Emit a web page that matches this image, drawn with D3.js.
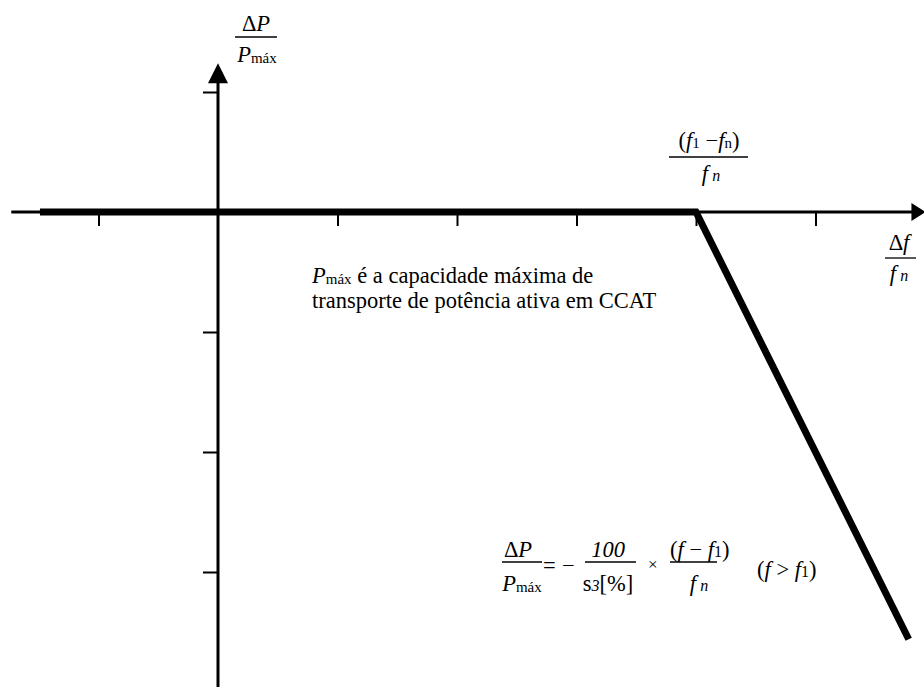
<!DOCTYPE html>
<html lang="pt">
<head>
<meta charset="utf-8">
<title>Controle de frequência CCAT</title>
<script src="https://cdn.jsdelivr.net/npm/d3@7"></script>
<style>
  body { margin: 0; background: #fff; }
</style>
</head>
<body>
<script>
// data (units of one tick spacing)
var xTicks = [-1, 1, 2, 3, 4, 5];
var yTicks = [1, -1, -2, -3];
var curveX = [-1.49, 4, 5.78];
var curveY = [0, 0, -3.56];
var xAxisExtent = [-1.73, 5.92];
var yAxisExtent = [1.24, -3.99];

var w = 924, h = 687;

var xScale = d3.scaleLinear().domain([-1, 5]).range([98.5, 815.5]);
var yScale = d3.scaleLinear().domain([-3, 1]).range([572, 92]);

var svg = d3.select("body").append("svg")
  .attr("width", w)
  .attr("height", h);

// axes lines
var x0 = xScale(0), y0 = yScale(0);
svg.append("line")
  .attr("x1", xScale(xAxisExtent[0])).attr("x2", xScale(xAxisExtent[1]) - 8)
  .attr("y1", y0).attr("y2", y0)
  .attr("stroke", "#000").attr("stroke-width", 3);
svg.append("line")
  .attr("x1", x0).attr("x2", x0)
  .attr("y1", yScale(yAxisExtent[0]) + 10).attr("y2", yScale(yAxisExtent[1]))
  .attr("stroke", "#000").attr("stroke-width", 3);

// arrow heads
var ax = xScale(xAxisExtent[1]);
svg.append("path")
  .attr("d", "M" + ax + "," + y0 + "L" + (ax - 14) + "," + (y0 - 9) + "L" + (ax - 14) + "," + (y0 + 9) + "Z")
  .attr("fill", "#000");
var ay = yScale(yAxisExtent[0]);
svg.append("path")
  .attr("d", "M" + x0 + "," + ay + "L" + (x0 - 10) + "," + (ay + 20) + "L" + (x0 + 10) + "," + (ay + 20) + "Z")
  .attr("fill", "#000");

// ticks
var xAxis = d3.axisBottom(xScale).tickValues(xTicks).tickSize(14).tickFormat("");
var yAxis = d3.axisLeft(yScale).tickValues(yTicks).tickSize(15).tickFormat("");

var gx = svg.append("g")
  .attr("transform", "translate(0," + y0 + ")")
  .call(xAxis);
var gy = svg.append("g")
  .attr("transform", "translate(" + x0 + ",0)")
  .call(yAxis);
gx.select(".domain").remove();
gy.select(".domain").remove();
svg.selectAll(".tick line").attr("stroke", "#000").attr("stroke-width", 2);

// the characteristic
var pts = curveX.map(function(d, i) { return [d, curveY[i]]; });
var line = d3.line()
  .x(function(d) { return xScale(d[0]); })
  .y(function(d) { return yScale(d[1]); });
svg.append("path")
  .datum(pts)
  .attr("d", line)
  .attr("fill", "none")
  .attr("stroke", "#000")
  .attr("stroke-width", 7)
  .attr("stroke-linejoin", "miter");

// text helpers
var fs = 22.5;
function addText(x, y, parts, anchor) {
  var t = svg.append("text")
    .attr("x", x).attr("y", y)
    .attr("font-family", "Liberation Serif")
    .attr("font-size", fs)
    .attr("fill", "#000")
    .attr("text-anchor", anchor || "start");
  parts.forEach(function(p) {
    var s = t.append("tspan").text(p.t);
    if (p.i) s.attr("font-style", "italic");
    if (p.s) s.attr("font-size", p.s);
    if (p.dy) s.attr("dy", p.dy);
    if (p.dx) s.attr("dx", p.dx);
  });
  return t;
}
function bar(x1, x2, y) {
  svg.append("line")
    .attr("x1", x1).attr("x2", x2).attr("y1", y).attr("y2", y)
    .attr("stroke", "#000").attr("stroke-width", 1.3);
}
var pmax = [{t: "P", i: true}, {t: "máx", s: 15, dy: 1}];

// y label
addText(256, 31, [{t: "Δ"}, {t: "P", i: true}], "middle");
bar(235, 277, 37);
addText(257, 62, pmax, "middle");

// (f1 - fn)/fn
addText(709, 148, [{t: "("}, {t: "f", i: true}, {t: "1", s: 15}, {t: " −"}, {t: "f", i: true}, {t: "n", s: 15}, {t: ")"}], "middle");
bar(669, 748, 157);
addText(711, 181, [{t: "f", i: true}, {t: " n", i: true, s: 16}], "middle");

// Δf/fn
addText(899, 250, [{t: "Δ"}, {t: "f", i: true}], "middle");
bar(885, 916, 258);
addText(899, 281, [{t: "f", i: true}, {t: " n", i: true, s: 16}], "middle");

// description
addText(312, 283, pmax.concat([{t: " é a capacidade máxima de", s: fs, dy: -1}]));
addText(312, 308, [{t: "transporte de potência ativa em CCAT"}]);

// formula
addText(518, 557, [{t: "Δ"}, {t: "P", i: true}], "middle");
bar(502, 542, 562);
addText(522, 591, pmax, "middle");
addText(543, 573, [{t: "="}]);
addText(562, 573, [{t: "−"}]);
addText(608, 557, [{t: "100", i: true}], "middle");
bar(585, 636, 562);
addText(608, 591, [{t: "s"}, {t: "3", i: true, s: 16}, {t: "[%]"}], "middle");
addText(648, 570, [{t: "×", s: 17}]);
addText(670, 557, [{t: "("}, {t: "f", i: true}, {t: " − "}, {t: "f", i: true}, {t: "1", s: 16}, {t: ")"}]);
bar(670, 717, 562);
addText(699, 591, [{t: "f", i: true}, {t: " n", i: true, s: 16}], "middle");
addText(757, 577, [{t: "("}, {t: "f", i: true}, {t: " > "}, {t: "f", i: true}, {t: "1", s: 16}, {t: ")"}]);
</script>
</body>
</html>
